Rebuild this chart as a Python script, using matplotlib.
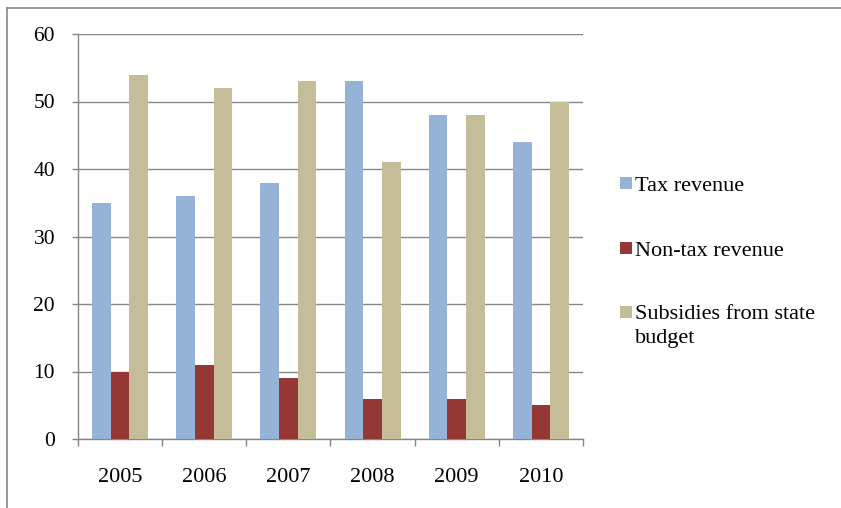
import matplotlib
matplotlib.use("Agg")
import matplotlib.pyplot as plt
import numpy as np
from matplotlib.patches import Rectangle
from matplotlib.legend_handler import HandlerPatch
from matplotlib.lines import Line2D

years = ["2005", "2006", "2007", "2008", "2009", "2010"]
tax_revenue = [35, 36, 38, 53, 48, 44]
non_tax_revenue = [10, 11, 9, 6, 6, 5]
subsidies = [54, 52, 53, 41, 48, 50]
series_names = ["Tax revenue", "Non-tax revenue", "Subsidies from state\nbudget"]
colors = ["#95B3D7", "#953735", "#C4BD97"]
yticks = [0, 10, 20, 30, 40, 50, 60]

plt.rcParams['font.family'] = ['Liberation Serif', 'DejaVu Serif']

W, H = 841, 508
fig = plt.figure(figsize=(W / 100, H / 100), dpi=100)
ax = fig.add_axes([78 / W, 1 - 439 / H, (583 - 78) / W, (439 - 34) / H])

x = np.arange(len(years))
bw = 1 / 4.5
for i, (vals, c) in enumerate(zip([tax_revenue, non_tax_revenue, subsidies], colors)):
    ax.bar(x + (i - 1) * bw, vals, width=bw, color=c, zorder=3, label=series_names[i])

ax.set_xlim(-0.5, len(years) - 0.5)
ax.set_ylim(0, 60)
ax.set_yticks(yticks)
ax.set_xticks(x)
ax.set_xticklabels(years)
ax.set_xticks(np.arange(-0.5, len(years), 1), minor=True)
grid_c = "#868686"
ax.yaxis.grid(True, color=grid_c, linewidth=1.0, zorder=0)
ax.set_axisbelow(True)
for s in ["top", "right"]:
    ax.spines[s].set_visible(False)
for s in ["left", "bottom"]:
    ax.spines[s].set_color(grid_c)
    ax.spines[s].set_linewidth(1.0)
ax.tick_params(axis='y', length=4.5, width=1.0, color=grid_c, pad=12, labelsize=15.5, labelcolor='black')
ax.tick_params(axis='x', which='major', length=0, pad=21, labelsize=16, labelcolor='black')
ax.tick_params(axis='x', which='minor', length=5, width=1.0, color=grid_c)

class ShiftedHandler(HandlerPatch):
    def __init__(self, shift=0, **kw):
        super().__init__(**kw)
        self.shift = shift
    def create_artists(self, legend, orig_handle, xdescent, ydescent, width, height, fontsize, trans):
        side = 8.5
        p = Rectangle((-xdescent, -ydescent + (height - side) / 2 + self.shift), side, side,
                      facecolor=orig_handle.get_facecolor(), edgecolor='none', transform=trans)
        return [p]

handles = [Rectangle((0, 0), 1, 1, facecolor=c) for c in colors]
hmap = {handles[0]: ShiftedHandler(0), handles[1]: ShiftedHandler(0), handles[2]: ShiftedHandler(10)}
leg = fig.legend(handles, series_names, handler_map=hmap, loc='upper left',
                 bbox_to_anchor=(620 / W, 1 - 175 / H), frameon=False, fontsize=16,
                 handlelength=0.55, handleheight=0.7, handletextpad=0.12, labelspacing=2.0,
                 borderpad=0, borderaxespad=0)
for t in leg.get_texts():
    t.set_linespacing(1.35)

border_c = "#888888"
fig.add_artist(Line2D([7 / W, 1], [1 - 8 / H, 1 - 8 / H], color=border_c, linewidth=1.2, transform=fig.transFigure))
fig.add_artist(Line2D([7 / W, 7 / W], [0, 1 - 8 / H], color=border_c, linewidth=1.2, transform=fig.transFigure))

fig.savefig("out.png", dpi=100)
